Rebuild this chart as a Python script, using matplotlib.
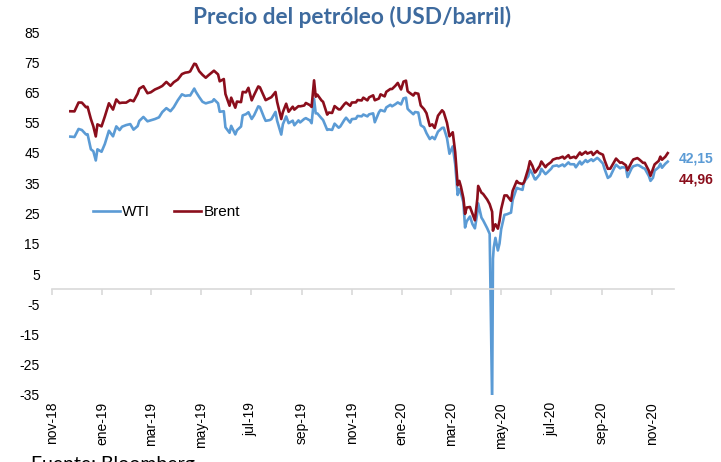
import matplotlib
matplotlib.use("Agg")
import matplotlib.pyplot as plt
import pandas as pd

# ---------------- data ----------------
dates = [
    "2018-11-23", "2018-11-28", "2018-12-03", "2018-12-07", "2018-12-12", "2018-12-14", "2018-12-18",
    "2018-12-21", "2018-12-24", "2018-12-26", "2018-12-31", "2019-01-04", "2019-01-09", "2019-01-14",
    "2019-01-18", "2019-01-22", "2019-01-25", "2019-01-30", "2019-02-04", "2019-02-08", "2019-02-13",
    "2019-02-15", "2019-02-20", "2019-02-25", "2019-03-01", "2019-03-06", "2019-03-11", "2019-03-15",
    "2019-03-20", "2019-03-25", "2019-03-29", "2019-04-03", "2019-04-08", "2019-04-12", "2019-04-16",
    "2019-04-18", "2019-04-23", "2019-04-25", "2019-04-29", "2019-05-03", "2019-05-07", "2019-05-10",
    "2019-05-15", "2019-05-17", "2019-05-22", "2019-05-24", "2019-05-29", "2019-05-31", "2019-06-05",
    "2019-06-07", "2019-06-12", "2019-06-14", "2019-06-19", "2019-06-21", "2019-06-25", "2019-06-28",
    "2019-07-02", "2019-07-05", "2019-07-10", "2019-07-12", "2019-07-17", "2019-07-19", "2019-07-24",
    "2019-07-26", "2019-07-31", "2019-08-02", "2019-08-07", "2019-08-09", "2019-08-13", "2019-08-16",
    "2019-08-21", "2019-08-23", "2019-08-28", "2019-08-30", "2019-09-04", "2019-09-06", "2019-09-11",
    "2019-09-13", "2019-09-16", "2019-09-18", "2019-09-20", "2019-09-25", "2019-09-27", "2019-10-02",
    "2019-10-04", "2019-10-08", "2019-10-11", "2019-10-16", "2019-10-18", "2019-10-23", "2019-10-25",
    "2019-10-30", "2019-11-01", "2019-11-06", "2019-11-08", "2019-11-13", "2019-11-15", "2019-11-20",
    "2019-11-22", "2019-11-27", "2019-11-29", "2019-12-04", "2019-12-06", "2019-12-11", "2019-12-13",
    "2019-12-18", "2019-12-20", "2019-12-24", "2019-12-27", "2019-12-31", "2020-01-03", "2020-01-06",
    "2020-01-08", "2020-01-10", "2020-01-15", "2020-01-17", "2020-01-21", "2020-01-24", "2020-01-28",
    "2020-01-31", "2020-02-04", "2020-02-07", "2020-02-10", "2020-02-14", "2020-02-19", "2020-02-21",
    "2020-02-25", "2020-02-28", "2020-03-03", "2020-03-06", "2020-03-09", "2020-03-11", "2020-03-13",
    "2020-03-16", "2020-03-18", "2020-03-20", "2020-03-24", "2020-03-27", "2020-03-30", "2020-04-02",
    "2020-04-03", "2020-04-07", "2020-04-09", "2020-04-14", "2020-04-17", "2020-04-20", "2020-04-21",
    "2020-04-22", "2020-04-24", "2020-04-27", "2020-04-29", "2020-05-01", "2020-05-05", "2020-05-08",
    "2020-05-13", "2020-05-15", "2020-05-20", "2020-05-22", "2020-05-27", "2020-05-29", "2020-06-03",
    "2020-06-05", "2020-06-08", "2020-06-11", "2020-06-12", "2020-06-17", "2020-06-19", "2020-06-24",
    "2020-06-26", "2020-07-01", "2020-07-03", "2020-07-08", "2020-07-10", "2020-07-15", "2020-07-17",
    "2020-07-22", "2020-07-24", "2020-07-29", "2020-07-31", "2020-08-05", "2020-08-07", "2020-08-12",
    "2020-08-14", "2020-08-19", "2020-08-21", "2020-08-26", "2020-08-28", "2020-09-02", "2020-09-04",
    "2020-09-08", "2020-09-11", "2020-09-16", "2020-09-18", "2020-09-23", "2020-09-25", "2020-09-30",
    "2020-10-02", "2020-10-07", "2020-10-09", "2020-10-14", "2020-10-16", "2020-10-21", "2020-10-23",
    "2020-10-28", "2020-10-30", "2020-11-02", "2020-11-04", "2020-11-09", "2020-11-11", "2020-11-13",
    "2020-11-17", "2020-11-20",
]

wti = [
    50.42, 50.29, 52.95, 52.61, 51.15, 51.20, 46.24,
    45.59, 42.53, 46.22, 45.41, 47.96, 52.36, 50.51,
    53.80, 52.57, 53.69, 54.23, 54.56, 52.72, 53.90,
    55.59, 56.92, 55.48, 55.80, 56.22, 56.79, 58.52,
    59.83, 58.82, 60.14, 62.46, 64.40, 63.89, 64.05,
    64.00, 66.30, 65.21, 63.50, 61.94, 61.40, 61.66,
    62.02, 62.76, 61.42, 58.63, 58.81, 53.50, 51.68,
    53.99, 51.14, 52.51, 53.76, 57.43, 57.83, 58.47,
    56.25, 57.51, 60.43, 60.21, 56.78, 55.63, 55.88,
    56.20, 58.58, 55.66, 51.09, 54.50, 57.10, 54.87,
    55.68, 54.17, 55.78, 55.10, 56.26, 56.52, 55.75,
    54.85, 62.90, 58.11, 58.09, 56.49, 55.91, 52.64,
    52.81, 52.63, 54.70, 53.36, 53.78, 55.97, 56.66,
    55.06, 56.20, 56.35, 57.24, 57.12, 57.72, 57.11,
    57.77, 58.11, 55.17, 58.43, 59.20, 58.76, 60.07,
    60.93, 60.44, 61.11, 61.72, 61.06, 63.05, 63.27,
    59.61, 59.04, 57.81, 58.54, 58.38, 54.19, 53.48,
    51.56, 49.61, 50.32, 49.57, 52.05, 53.29, 53.38,
    49.90, 44.76, 47.18, 41.28, 31.13, 32.98, 31.73,
    28.70, 20.37, 22.43, 24.01, 21.51, 20.09, 25.32,
    28.34, 23.63, 22.76, 20.11, 18.27, -37.63, 10.01,
    13.78, 16.94, 12.78, 15.06, 19.78, 24.56, 24.74,
    25.29, 29.43, 33.49, 33.25, 32.81, 35.49, 37.29,
    39.55, 38.19, 36.34, 36.26, 37.96, 39.75, 38.01,
    38.49, 39.82, 40.65, 40.90, 40.55, 41.20, 40.59,
    41.90, 41.29, 41.27, 40.27, 42.19, 41.22, 42.67,
    42.01, 42.93, 42.34, 43.39, 42.97, 41.51, 39.77,
    36.76, 37.33, 40.16, 41.11, 39.93, 40.25, 40.22,
    37.05, 39.95, 40.60, 41.04, 40.88, 40.03, 39.85,
    37.39, 35.79, 36.81, 39.15, 40.29, 41.45, 40.13,
    41.43, 42.15,
]

brent = [
    58.80, 58.76, 61.69, 61.67, 60.15, 60.28, 56.26,
    53.82, 50.47, 54.47, 53.80, 57.06, 61.44, 59.35,
    62.70, 61.50, 61.64, 61.65, 62.51, 62.10, 64.61,
    66.25, 67.08, 64.76, 65.07, 65.99, 66.58, 67.16,
    68.50, 67.21, 68.39, 69.31, 71.10, 71.55, 71.72,
    71.97, 74.51, 74.35, 72.04, 70.85, 69.88, 70.62,
    71.77, 72.21, 70.99, 68.69, 69.45, 64.49, 60.63,
    63.29, 59.97, 62.01, 61.82, 65.20, 65.05, 66.55,
    62.40, 64.23, 67.01, 66.72, 63.66, 62.47, 63.18,
    63.46, 65.17, 61.89, 56.23, 58.53, 61.30, 58.64,
    60.30, 59.34, 60.49, 60.43, 60.70, 61.54, 60.81,
    60.22, 69.02, 63.60, 64.28, 62.39, 61.91, 57.69,
    58.37, 58.24, 60.51, 59.42, 59.42, 61.17, 61.67,
    60.61, 61.69, 61.74, 62.51, 62.37, 63.30, 62.40,
    63.39, 64.06, 62.43, 63.00, 64.39, 63.72, 65.22,
    66.17, 66.14, 67.20, 68.16, 66.00, 68.60, 68.91,
    65.44, 64.98, 64.00, 64.85, 64.59, 60.69, 59.51,
    58.16, 53.96, 54.47, 53.27, 57.32, 59.12, 58.50,
    54.95, 50.52, 51.86, 45.27, 34.36, 35.79, 33.85,
    30.05, 24.88, 26.98, 27.15, 24.93, 22.76, 29.94,
    34.11, 31.87, 31.48, 29.60, 28.08, 25.57, 19.33,
    20.37, 21.44, 19.99, 22.54, 26.44, 30.97, 30.97,
    29.19, 32.50, 35.75, 35.13, 34.74, 35.33, 39.79,
    42.30, 40.80, 38.55, 38.73, 40.71, 42.19, 40.31,
    41.02, 42.03, 42.80, 43.29, 43.24, 43.79, 43.14,
    44.29, 43.34, 43.75, 43.30, 45.17, 44.40, 45.43,
    44.80, 45.37, 44.35, 45.64, 45.05, 44.43, 42.66,
    39.78, 39.83, 42.22, 43.15, 41.77, 41.92, 40.95,
    39.27, 41.99, 42.85, 43.32, 42.93, 41.73, 41.77,
    39.12, 37.46, 39.71, 41.23, 42.40, 43.80, 42.78,
    43.75, 44.96,
]

series_names = ["WTI", "Brent"]
tick_dates = ["2018-11-01", "2019-01-01", "2019-03-01", "2019-05-01", "2019-07-01",
              "2019-09-01", "2019-11-01", "2020-01-01", "2020-03-01", "2020-05-01",
              "2020-07-01", "2020-09-01", "2020-11-01"]
tick_labels = ["nov-18", "ene-19", "mar-19", "may-19", "jul-19", "sep-19", "nov-19",
               "ene-20", "mar-20", "may-20", "jul-20", "sep-20", "nov-20"]
y_ticks = [85, 75, 65, 55, 45, 35, 25, 15, 5, -5, -15, -25, -35]
end_labels = ["42,15", "44,96"]
title = "Precio del petróleo (USD/barril)"
ylabel = "USD/barril"
source = "Fuente: Bloomberg"

# ---------------- style ----------------
c_wti = "#5B9BD5"
c_brent = "#8B0E1C"
c_title = "#3D6A9E"
axis_grey = "#D9D9D9"

plt.rcParams["font.family"] = ["Liberation Sans", "DejaVu Sans"]

x = pd.to_datetime(dates)
xt = pd.to_datetime(tick_dates)

fig = plt.figure(figsize=(7.21, 4.62), dpi=100)
ax = fig.add_axes([52.3 / 721, (462 - 395) / 462, 622 / 721, 363 / 462])

ax.plot(x, wti, color=c_wti, lw=1.9, label=series_names[0], solid_joinstyle="round")
ax.plot(x, brent, color=c_brent, lw=1.9, label=series_names[1], solid_joinstyle="round")

ax.set_ylim(-35, 85)
ax.set_xlim(pd.Timestamp("2018-11-01"), pd.Timestamp("2020-11-28"))
ax.set_yticks(y_ticks)
ax.set_yticklabels([str(v) for v in y_ticks])
ax.tick_params(axis="y", length=0, pad=9, labelsize=10)

for s in ["top", "right", "left"]:
    ax.spines[s].set_visible(False)
ax.spines["bottom"].set_position(("data", 0))
ax.spines["bottom"].set_color(axis_grey)
ax.spines["bottom"].set_linewidth(1.2)
ax.set_xticks(xt)
ax.tick_params(axis="x", direction="out", length=4, width=1.2, color=axis_grey,
               labelbottom=False)

sec = ax.secondary_xaxis("bottom")
sec.set_xticks(xt)
sec.set_xticklabels(tick_labels, rotation=90, fontsize=10)
sec.tick_params(length=0, pad=5)
sec.spines["bottom"].set_visible(False)

leg = ax.legend(loc="center left", bbox_to_anchor=(0.0654, 0.504), ncol=2, frameon=False,
                fontsize=11, handlelength=1.75, handletextpad=0.15, columnspacing=1.6,
                borderpad=0, borderaxespad=0)

ax.annotate(end_labels[0], xy=(x[-1], wti[-1]), xytext=(8, 2.5), textcoords="offset points",
            color=c_wti, fontsize=10, fontweight="bold", ha="left", va="center")
ax.annotate(end_labels[1], xy=(x[-1], brent[-1]), xytext=(8, -19), textcoords="offset points",
            color=c_brent, fontsize=10, fontweight="bold", ha="left", va="center")

fig.text(352 / 721, 1 - 17 / 462, title, ha="center", va="center", fontsize=16.3,
         fontweight="bold", color=c_title, family=["Lato", "DejaVu Sans"])
fig.text(-3 / 721, 1 - 189 / 462, ylabel, rotation=90, ha="center", va="center", fontsize=8.5)
fig.text(31 / 721, -8 / 462, source, ha="left", va="baseline", fontsize=14,
         family=["Lato", "DejaVu Sans"])

fig.savefig("out.png", dpi=100)
